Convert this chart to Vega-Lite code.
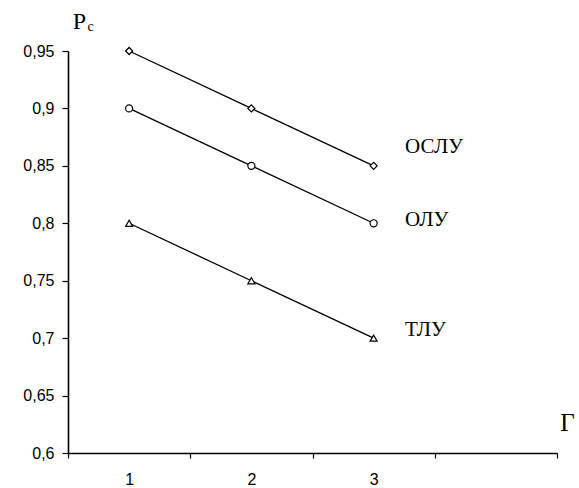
{
  "$schema": "https://vega.github.io/schema/vega-lite/v6.json",
  "width": 489,
  "height": 402,
  "autosize": {"type": "none"},
  "padding": {"left": 68, "top": 51, "right": 22, "bottom": 35},
  "background": "white",
  "config": {"view": {"stroke": null}},
  "data": {"values": [
    {"g": 1, "series": "ОСЛУ", "p": 0.95},
    {"g": 2, "series": "ОСЛУ", "p": 0.9},
    {"g": 3, "series": "ОСЛУ", "p": 0.85},
    {"g": 1, "series": "ОЛУ", "p": 0.9},
    {"g": 2, "series": "ОЛУ", "p": 0.85},
    {"g": 3, "series": "ОЛУ", "p": 0.8},
    {"g": 1, "series": "ТЛУ", "p": 0.8},
    {"g": 2, "series": "ТЛУ", "p": 0.75},
    {"g": 3, "series": "ТЛУ", "p": 0.7}
  ]},
  "encoding": {
    "x": {"field": "g", "type": "quantitative",
      "scale": {"domain": [0.5, 4.5], "nice": false, "zero": false},
      "axis": {
        "values": [0.5, 1, 1.5, 2, 2.5, 3, 3.5, 4, 4.5],
        "labelExpr": "(datum.value === 1 || datum.value === 2 || datum.value === 3) ? format(datum.value, 'd') : ''",
        "tickOpacity": {"condition": {"test": "datum.value === 1 || datum.value === 2 || datum.value === 3 || datum.value === 4", "value": 0}, "value": 1},
        "grid": false,
        "domainColor": "black", "domainWidth": 1.6,
        "tickColor": "black", "tickSize": 5, "tickWidth": 1.2,
        "labelFont": "Liberation Sans", "labelFontSize": 16, "labelColor": "black", "labelPadding": 13, "labelFlush": false,
        "title": "Γ", "titleFont": "Liberation Serif", "titleFontSize": 25, "titleFontWeight": "normal", "titleColor": "black",
        "titleX": 499, "titleY": -31, "titleAlign": "center", "titleBaseline": "middle"
      }
    },
    "y": {"field": "p", "type": "quantitative",
      "scale": {"domain": [0.6, 0.95], "nice": false, "zero": false},
      "axis": {
        "values": [0.6, 0.65, 0.7, 0.75, 0.8, 0.85, 0.9, 0.95],
        "labelExpr": "replace(format(datum.value, '.2~f'), '.', ',')",
        "grid": false,
        "domainColor": "black", "domainWidth": 1.6,
        "tickColor": "black", "tickSize": 6, "tickWidth": 1.2,
        "labelFont": "Liberation Sans", "labelFontSize": 16, "labelColor": "black", "labelPadding": 8, "labelFlush": false,
        "title": "P", "titleFont": "Liberation Serif", "titleFontSize": 24, "titleFontWeight": "normal", "titleColor": "black",
        "titleAngle": 0, "titleX": 11, "titleY": -30, "titleAlign": "center", "titleBaseline": "middle"
      }
    }
  },
  "layer": [
    {"mark": {"type": "line", "color": "black", "strokeWidth": 1.3},
     "encoding": {"detail": {"field": "series"}}},
    {"mark": {"type": "point", "filled": true, "fill": "white", "stroke": "black", "strokeWidth": 1.2, "opacity": 1, "size": 50},
     "encoding": {"shape": {"field": "series", "type": "nominal",
        "scale": {"domain": ["ОСЛУ", "ОЛУ", "ТЛУ"], "range": ["diamond", "circle", "triangle-up"]}, "legend": null}}},
    {"data": {"values": [
      {"g": 3.257, "p": 0.866, "label": "ОСЛУ"},
      {"g": 3.257, "p": 0.803, "label": "ОЛУ"},
      {"g": 3.257, "p": 0.707, "label": "ТЛУ"}
    ]},
     "mark": {"type": "text", "align": "left", "baseline": "middle", "font": "Liberation Serif", "fontSize": 21, "color": "black"},
     "encoding": {"text": {"field": "label"}}},
    {"data": {"values": [
      {"g": 0.685, "p": 0.9705, "label": "c"}
    ]},
     "mark": {"type": "text", "align": "center", "baseline": "middle", "font": "Liberation Serif", "fontSize": 14, "color": "black"},
     "encoding": {"text": {"field": "label"}}}
  ]
}
